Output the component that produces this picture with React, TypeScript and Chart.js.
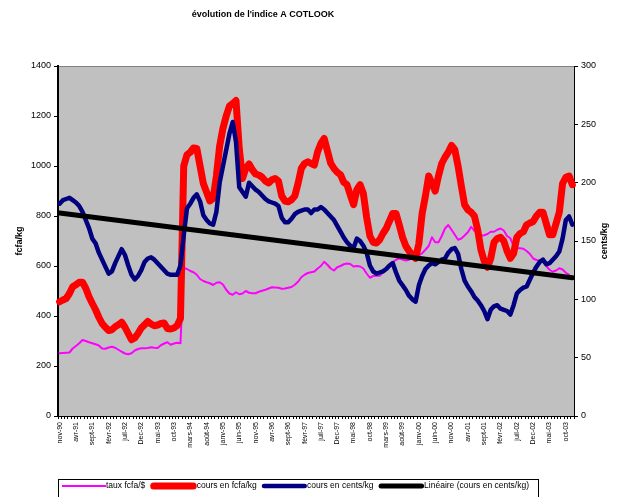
import React, { useEffect, useRef } from 'react';
import { Chart, registerables } from 'chart.js';

Chart.register(...registerables);

const FONT = '"Liberation Sans", Arial, Helvetica, sans-serif';

const TITLE = "évolution de l'indice A COTLOOK";
const LEFT_AXIS_TITLE = 'fcfa/kg';
const RIGHT_AXIS_TITLE = 'cents/kg';

const MONTHS = [
  'nov-90', 'Dec-90',
  'janv-91', 'févr-91', 'mars-91', 'avr-91', 'mai-91', 'juin-91', 'juil-91', 'août-91', 'sept-91', 'oct-91', 'nov-91', 'Dec-91',
  'janv-92', 'févr-92', 'mars-92', 'avr-92', 'mai-92', 'juin-92', 'juil-92', 'août-92', 'sept-92', 'oct-92', 'nov-92', 'Dec-92',
  'janv-93', 'févr-93', 'mars-93', 'avr-93', 'mai-93', 'juin-93', 'juil-93', 'août-93', 'sept-93', 'oct-93', 'nov-93', 'Dec-93',
  'janv-94', 'févr-94', 'mars-94', 'avr-94', 'mai-94', 'juin-94', 'juil-94', 'août-94', 'sept-94', 'oct-94', 'nov-94', 'Dec-94',
  'janv-95', 'févr-95', 'mars-95', 'avr-95', 'mai-95', 'juin-95', 'juil-95', 'août-95', 'sept-95', 'oct-95', 'nov-95', 'Dec-95',
  'janv-96', 'févr-96', 'mars-96', 'avr-96', 'mai-96', 'juin-96', 'juil-96', 'août-96', 'sept-96', 'oct-96', 'nov-96', 'Dec-96',
  'janv-97', 'févr-97', 'mars-97', 'avr-97', 'mai-97', 'juin-97', 'juil-97', 'août-97', 'sept-97', 'oct-97', 'nov-97', 'Dec-97',
  'janv-98', 'févr-98', 'mars-98', 'avr-98', 'mai-98', 'juin-98', 'juil-98', 'août-98', 'sept-98', 'oct-98', 'nov-98', 'Dec-98',
  'janv-99', 'févr-99', 'mars-99', 'avr-99', 'mai-99', 'juin-99', 'juil-99', 'août-99', 'sept-99', 'oct-99', 'nov-99', 'Dec-99',
  'janv-00', 'févr-00', 'mars-00', 'avr-00', 'mai-00', 'juin-00', 'juil-00', 'août-00', 'sept-00', 'oct-00', 'nov-00', 'Dec-00',
  'janv-01', 'févr-01', 'mars-01', 'avr-01', 'mai-01', 'juin-01', 'juil-01', 'août-01', 'sept-01', 'oct-01', 'nov-01', 'Dec-01',
  'janv-02', 'févr-02', 'mars-02', 'avr-02', 'mai-02', 'juin-02', 'juil-02', 'août-02', 'sept-02', 'oct-02', 'nov-02', 'Dec-02',
  'janv-03', 'févr-03', 'mars-03', 'avr-03', 'mai-03', 'juin-03', 'juil-03', 'août-03', 'sept-03', 'oct-03', 'nov-03', 'Dec-03',
];

// taux fcfa/$ (left axis)
const TAUX_FCFA_USD = [
  251, 252, 253, 254, 270, 280, 291, 304, 300, 295,
  291, 287, 282, 270, 269, 274, 277, 273, 265, 257,
  250, 247, 251, 262, 268, 271, 271, 272, 275, 273,
  272, 283, 290, 295, 285, 290, 293, 291, 592, 588,
  580, 575, 565, 548, 540, 535, 531, 524, 533, 535,
  526, 505, 490, 485, 495, 487, 490, 500, 493, 491,
  491, 497, 501, 505, 510, 515, 514, 513, 509, 510,
  513, 516, 525, 537, 555, 565, 572, 575, 578, 590,
  600, 617, 605, 590, 582, 595, 600, 607, 610, 608,
  598, 600, 598, 590, 570, 553, 560, 561, 561, 575,
  590, 605, 615, 625, 631, 626, 622, 625, 641, 638,
  642, 651, 665, 680, 715, 695, 695, 720, 750, 764,
  745, 725, 705, 710, 722, 735, 757, 740, 730, 721,
  723, 728, 737, 737, 745, 750, 742, 720, 711, 680,
  671, 671, 669, 660, 648, 630, 624, 622, 617, 600,
  585, 577, 582, 591, 586, 573, 565, null,
];

// cours en fcfa/kg (left axis)
const COURS_FCFA_KG = [
  457, 464, 470, 490, 517, 525, 535, 535, 511, 477,
  450, 425, 395, 370, 355, 342, 345, 357, 365, 375,
  355, 330, 305, 312, 330, 352, 365, 378, 368, 361,
  364, 370, 372, 350, 348, 352, 362, 390, 1000, 1045,
  1055, 1072, 1070, 1000, 930, 895, 860, 870, 960, 1080,
  1150, 1200, 1240, 1250, 1262, 1070, 950, 990, 1008, 985,
  968, 964, 955, 940, 932, 945, 950, 940, 880, 860,
  857, 865, 880, 930, 990, 1010, 1017, 1010, 1004, 1057,
  1090, 1110, 1060, 1011, 990, 975, 965, 935, 925, 884,
  845, 905, 925, 890, 795, 720, 695, 692, 705, 730,
  750, 780, 810, 810, 764, 715, 680, 660, 644, 631,
  690, 810, 880, 960, 930, 900, 960, 1010, 1035, 1055,
  1082, 1065, 1000, 920, 845, 825, 815, 800, 745, 665,
  620, 595, 630, 695, 710, 715, 700, 660, 631, 650,
  715, 730, 737, 765, 772, 778, 800, 815, 815, 770,
  725, 725, 770, 815, 930, 955, 960, 925,
];

// cours en cents/kg (right axis)
const COURS_CENTS_KG = [
  182, 185, 186, 187, 185, 183, 180, 175, 168, 161,
  152, 148, 140, 134, 128, 122, 124, 131, 137, 143,
  138, 129, 121, 117, 120, 125, 132, 135, 136, 134,
  131, 128, 125, 122, 121, 121, 121, 129, 155, 178,
  182, 187, 190, 184, 172, 168, 165, 164, 175, 200,
  214, 228, 242, 252, 235, 196, 192, 188, 200, 197,
  194, 192, 189, 186, 184, 183, 182, 180, 170, 166,
  166, 169, 173, 175, 176, 177, 177, 174, 177, 177,
  179, 177, 174, 171, 168, 163, 158, 153, 149, 146,
  144, 152, 150, 146, 140, 129, 124, 122, 123, 124,
  126, 129, 131, 123, 116, 112, 108, 103, 100, 98,
  112, 120, 126, 129, 131, 130, 132, 134, 135, 140,
  143, 144, 139, 126, 116, 111, 107, 102, 99, 95,
  90, 83, 91, 94, 95, 92, 91, 90, 87, 95,
  105, 108, 110, 111, 117, 123, 128, 132, 134, 130,
  131, 134, 137, 141, 152, 168, 171, 164,
];

// Linéaire (cours en cents/kg): trend line end values (right axis)
const TREND_START = 174;
const TREND_END = 118.5;

const LEFT_MIN = 0;
const LEFT_MAX = 1400;
const LEFT_STEP = 200;
const RIGHT_MIN = 0;
const RIGHT_MAX = 300;
const RIGHT_STEP = 50;

const decorPlugin = {
  id: 'decor',
  beforeDraw(chart: any) {
    const { ctx, chartArea } = chart;
    ctx.save();
    ctx.fillStyle = '#C0C0C0';
    ctx.fillRect(chartArea.left, chartArea.top, chartArea.right - chartArea.left, chartArea.bottom - chartArea.top);
    ctx.strokeStyle = '#808080';
    ctx.lineWidth = 1;
    ctx.beginPath();
    ctx.moveTo(chartArea.left, chartArea.top + 0.5);
    ctx.lineTo(chartArea.right, chartArea.top + 0.5);
    ctx.stroke();
    ctx.restore();
  },
  afterDraw(chart: any) {
    const { ctx, chartArea } = chart;
    ctx.save();
    ctx.fillStyle = '#000';
    // title
    ctx.font = `bold 9px ${FONT}`;
    ctx.textAlign = 'center';
    ctx.textBaseline = 'middle';
    ctx.fillText(TITLE, 263, 15);
    // axis titles
    const midY = (chartArea.top + chartArea.bottom) / 2;
    ctx.save();
    ctx.translate(20, midY);
    ctx.rotate(-Math.PI / 2);
    ctx.fillText(LEFT_AXIS_TITLE, 0, 0);
    ctx.restore();
    ctx.save();
    ctx.translate(605, midY);
    ctx.rotate(-Math.PI / 2);
    ctx.fillText(RIGHT_AXIS_TITLE, 0, 0);
    ctx.restore();

    // legend
    const boxLeft = chartArea.left;
    const boxTop = 479;
    ctx.strokeStyle = '#000';
    ctx.lineWidth = 1;
    ctx.strokeRect(boxLeft + 0.5, boxTop + 0.5, 480, 40);
    ctx.font = `8.5px ${FONT}`;
    ctx.textAlign = 'left';
    ctx.textBaseline = 'middle';
    const cy = 486;
    let x = 62;
    chart.data.datasets.forEach((ds: any) => {
      const lw = ds.borderWidth;
      const sampleLen = 43 + lw / 2;
      ctx.strokeStyle = ds.borderColor;
      ctx.lineWidth = lw;
      ctx.lineCap = lw > 2 ? 'round' : 'butt';
      ctx.beginPath();
      const s0 = x + (lw > 2 ? lw / 2 : 0);
      const s1 = x + sampleLen - (lw > 2 ? lw / 2 : 0);
      ctx.moveTo(s0, cy);
      ctx.lineTo(s1, cy);
      ctx.stroke();
      const tx = x + sampleLen;
      ctx.fillStyle = '#000';
      ctx.fillText(ds.label, tx, cy);
      x = tx + ctx.measureText(ds.label).width + 5;
    });
    ctx.restore();
  },
};

export default function App() {
  const canvasRef = useRef<HTMLCanvasElement>(null);

  useEffect(() => {
    document.body.style.margin = '0';
    const canvas = canvasRef.current;
    if (!canvas) return;
    Chart.defaults.font.family = FONT;
    const trend = MONTHS.map((_, i) =>
      i === 0 ? TREND_START : i === MONTHS.length - 1 ? TREND_END : null
    );
    const chart = new Chart(canvas, {
      type: 'line',
      data: {
        labels: MONTHS,
        datasets: [
          {
            label: 'taux fcfa/$',
            data: TAUX_FCFA_USD,
            borderColor: '#FF00FF',
            backgroundColor: '#FF00FF',
            borderWidth: 2,
            yAxisID: 'y',
            order: 4,
          },
          {
            label: 'cours en fcfa/kg',
            data: COURS_FCFA_KG,
            borderColor: '#FF0000',
            backgroundColor: '#FF0000',
            borderWidth: 7,
            yAxisID: 'y',
            order: 3,
          },
          {
            label: 'cours en cents/kg',
            data: COURS_CENTS_KG,
            borderColor: '#000080',
            backgroundColor: '#000080',
            borderWidth: 4.5,
            yAxisID: 'y1',
            order: 2,
          },
          {
            label: 'Linéaire (cours en cents/kg)',
            data: trend,
            borderColor: '#000000',
            backgroundColor: '#000000',
            borderWidth: 5,
            yAxisID: 'y1',
            spanGaps: true,
            order: 1,
          },
        ],
      },
      options: {
        responsive: false,
        animation: false,
        devicePixelRatio: 1,
        layout: { padding: { top: 66, left: 0, right: 0, bottom: 0 } },
        elements: {
          point: { radius: 0, hoverRadius: 0 },
          line: { tension: 0, borderJoinStyle: 'round', borderCapStyle: 'round' },
        },
        plugins: {
          legend: { display: false },
          title: { display: false },
          tooltip: { enabled: false },
        },
        scales: {
          x: {
            type: 'category',
            offset: true,
            grid: { offset: true, drawOnChartArea: false, drawTicks: true, tickLength: 3, color: '#000' },
            border: { color: '#000', width: 1 },
            ticks: {
              autoSkip: false,
              maxRotation: 90,
              minRotation: 90,
              padding: 3,
              color: '#000',
              font: { family: FONT, size: 7 },
              callback: (_v: any, i: number) => (i % 5 === 0 ? MONTHS[i] : ''),
            },
            afterFit: (s: any) => {
              s.height = 81;
            },
          },
          y: {
            position: 'left',
            min: LEFT_MIN,
            max: LEFT_MAX,
            grid: { drawOnChartArea: false, tickLength: 4, color: '#000' },
            border: { color: '#000', width: 2 },
            ticks: {
              stepSize: LEFT_STEP,
              padding: 3,
              color: '#000',
              font: { family: FONT, size: 9 },
              callback: (v: any) => String(v),
            },
            afterFit: (s: any) => {
              s.width = 58;
            },
          },
          y1: {
            position: 'right',
            min: RIGHT_MIN,
            max: RIGHT_MAX,
            grid: { drawOnChartArea: false, tickLength: 4, color: '#000' },
            border: { color: '#000', width: 1 },
            ticks: {
              stepSize: RIGHT_STEP,
              padding: 3,
              color: '#000',
              font: { family: FONT, size: 9 },
              callback: (v: any) => String(v),
            },
            afterFit: (s: any) => {
              s.width = 48;
            },
          },
        },
      },
      plugins: [decorPlugin],
    } as any);
    return () => chart.destroy();
  }, []);

  return (
    <div style={{ position: 'absolute', left: 0, top: 0, width: 622, height: 497 }}>
      <canvas ref={canvasRef} width={622} height={497} style={{ width: 622, height: 497, display: 'block' }} />
    </div>
  );
}
